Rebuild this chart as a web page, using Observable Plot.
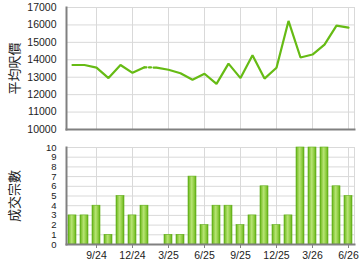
<!DOCTYPE html>
<html>
<head>
<meta charset="utf-8">
<script src="https://cdn.jsdelivr.net/npm/d3@7"></script>
<script src="https://cdn.jsdelivr.net/npm/@observablehq/plot@0.6"></script>
<style>
  html, body { margin: 0; padding: 0; background: #fff; }
  #chart { width: 360px; height: 270px; overflow: hidden; }
  #chart svg { display: block; }
</style>
</head>
<body>
<div id="chart"></div>
<script>
// ---- data ----
const months = ["7/24","8/24","9/24","10/24","11/24","12/24","1/25","2/25","3/25","4/25","5/25","6/25",
                "7/25","8/25","9/25","10/25","11/25","12/25","1/26","2/26","3/26","4/26","5/26","6/26"];
const avgPrice = [13700,13700,13550,12950,13700,13250,13570,13550,13430,13230,12850,13200,
                  12620,13780,12950,14260,12920,13540,16230,14130,14300,14870,15960,15850];
const deals = [3,3,4,1,5,3,4,0,1,1,7,2,4,4,2,3,6,2,3,10,10,10,6,5];
const xTicks = ["9/24","12/24","3/25","6/25","9/25","12/25","3/26","6/26"];
const priceTicks = [10000,11000,12000,13000,14000,15000,16000,17000];
const dealTicks = [0,1,2,3,4,5,6,7,8,9,10];
const priceTitle = "平均呎價";
const dealTitle = "成交宗數";

// ---- tables ----
const gapIdx = deals.findIndex(d => d === 0);
const priceRows = months.map((m, i) => ({m, v: avgPrice[i], seg: i < gapIdx ? "a" : "b"}));
const dottedRows = priceRows.slice(gapIdx - 1, gapIdx + 1);
const dealRows = months.map((m, i) => ({m, v: deals[i]}));

const font = "'Liberation Sans', Arial, sans-serif";
const cjk = "'Noto Sans CJK TC', 'Noto Sans CJK SC', sans-serif";
const green = "#66bb14";
const gridColor = "#d9d9d9";
const axisColor = "#808080";

const xScale = {type: "band", domain: months, paddingInner: 0.33, paddingOuter: 0.165};

const priceChart = Plot.plot({
  width: 360, height: 137,
  marginLeft: 66, marginRight: 6, marginTop: 7, marginBottom: 8,
  style: {fontFamily: font, fontSize: "10.5px", color: "#222", background: "#fff"},
  x: {...xScale, axis: null},
  y: {domain: [10000, 17000]},
  marks: [
    Plot.gridY(priceTicks, {stroke: gridColor, strokeOpacity: 1}),
    Plot.gridX(xTicks, {stroke: gridColor, strokeOpacity: 1}),
    Plot.frame({stroke: gridColor}),
    Plot.axisY(priceTicks, {tickSize: 0, tickPadding: 10, label: null, tickFormat: d => String(d)}),
    Plot.line(priceRows, {x: "m", y: "v", z: "seg", stroke: green, strokeWidth: 2.2, strokeLinejoin: "miter"}),
    Plot.line(dottedRows, {x: "m", y: "v", stroke: green, strokeWidth: 2.2, strokeDasharray: "2,2.5"}),
    Plot.frame({anchor: "left", stroke: axisColor, strokeWidth: 2}),
    Plot.frame({anchor: "bottom", stroke: axisColor, strokeWidth: 2}),
    Plot.text([priceTitle], {frameAnchor: "left", text: d => d, rotate: -90, dx: -52, textAnchor: "middle",
      fontFamily: cjk, fontSize: 13, fill: "#222"})
  ]
});

const dealChart = Plot.plot({
  width: 360, height: 133,
  marginLeft: 66, marginRight: 6, marginTop: 10, marginBottom: 26,
  style: {fontFamily: font, fontSize: "10.5px", color: "#222", background: "#fff"},
  x: {...xScale},
  y: {domain: [0, 10]},
  marks: [
    Plot.gridY(dealTicks, {stroke: gridColor, strokeOpacity: 1}),
    Plot.gridX(xTicks, {stroke: gridColor, strokeOpacity: 1}),
    Plot.frame({stroke: gridColor}),
    Plot.axisY(dealTicks, {tickSize: 0, tickPadding: 10, label: null, fontSize: 9.5}),
    Plot.axisX(xTicks, {tickSize: 4, tickPadding: 3, label: null, stroke: axisColor}),
    Plot.barY(dealRows, {x: "m", y: "v", fill: "url(#barGrad)", stroke: "#5fae17", strokeWidth: 0.6}),
    Plot.frame({anchor: "left", stroke: axisColor, strokeWidth: 2}),
    Plot.frame({anchor: "bottom", stroke: axisColor, strokeWidth: 2}),
    Plot.text([dealTitle], {frameAnchor: "left", text: d => d, rotate: -90, dx: -52, textAnchor: "middle",
      fontFamily: cjk, fontSize: 13, fill: "#222"})
  ]
});

// bar gradient definition
const defs = d3.select(dealChart).insert("defs", ":first-child");
const grad = defs.append("linearGradient").attr("id", "barGrad").attr("x1", "0").attr("x2", "1").attr("y1", "0").attr("y2", "0");
[[0, "#5fae17"], [0.2, "#8ccb3f"], [0.45, "#b6e374"], [0.6, "#a4da5a"], [0.85, "#7fc230"], [1, "#5fae17"]]
  .forEach(([o, c]) => grad.append("stop").attr("offset", o).attr("stop-color", c));

const root = document.getElementById("chart");
root.appendChild(priceChart);
root.appendChild(dealChart);
</script>
</body>
</html>
